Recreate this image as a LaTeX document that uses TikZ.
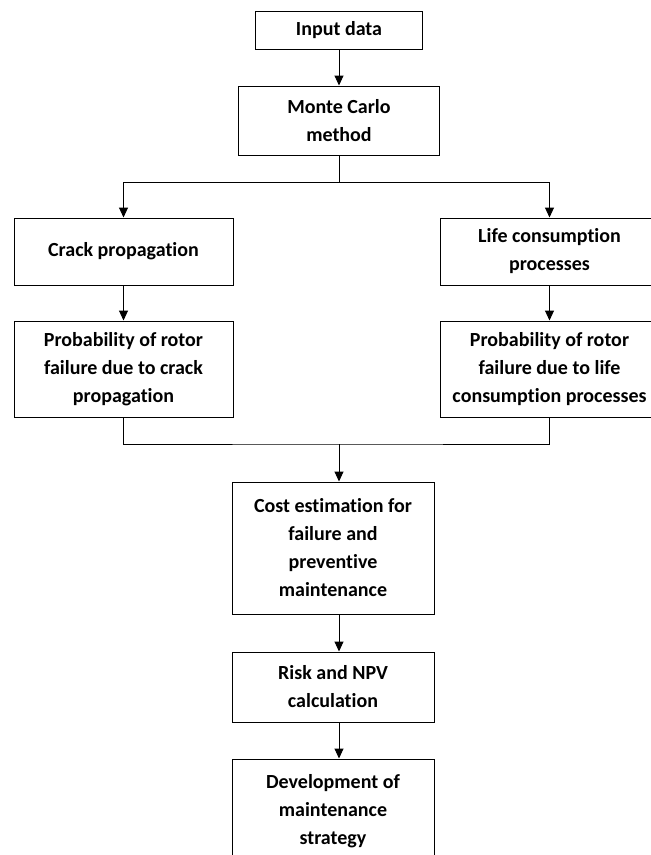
\documentclass[tikz,border=0pt]{standalone}
\usepackage{fontspec}
\setmainfont[Ligatures=NoCommon]{Carlito}
\usepackage{xcolor}
\usepackage{tikz}
\usetikzlibrary{calc}
\usetikzlibrary{arrows.meta,positioning}

\begin{document}
\begin{tikzpicture}[x=1pt,y=-1pt,
	box/.style={draw,line width=1pt,inner sep=0pt,align=center,font=\fontsize{20}{28}\selectfont\bfseries},
	arr/.style={-{Triangle[length=10pt,width=9pt]},line width=1pt}]
	\useasboundingbox[fill=white] (0,0) rectangle (651,855);
	\node[box,minimum width=167pt,minimum height=38pt] (input) at (339,30) {Input data};
	\node[box,minimum width=201pt,minimum height=69pt] (mc) at (339,120.5) {Monte Carlo\\method};
	\node[box,minimum width=219pt,minimum height=67pt] (crack) at (123.5,251.5) {Crack propagation};
	\node[box,minimum width=219pt,minimum height=67pt] (life) at (549.5,251.5) {Life consumption\\processes};
	\node[box,minimum width=219pt,minimum height=96pt] (pcrack) at (123.5,369) {Probability of rotor\\failure due to crack\\propagation};
	\node[box,minimum width=219pt,minimum height=96pt] (plife) at (549.5,369) {Probability of rotor\\failure due to life\\consumption processes};
	\node[box,minimum width=202pt,minimum height=132pt] (cost) at (333,548) {Cost estimation for\\failure and\\preventive\\maintenance};
	\node[box,minimum width=202pt,minimum height=70pt] (risk) at (333,687) {Risk and NPV\\calculation};
	\node[box,minimum width=202pt,minimum height=104pt] (dev) at (333,811) {Development of\\maintenance\\strategy};
	\coordinate (split) at (mc.south |- 0,182);
	\coordinate (merge) at (mc.south |- 0,444);
	\draw[arr] (input) -- (mc);
	\draw[line width=1pt] (mc.south) -- (split);
	\draw[arr] (split) -| (crack.north);
	\draw[arr] (split) -| (life.north);
	\draw[arr] (crack) -- (pcrack);
	\draw[arr] (life) -- (plife);
	\draw[line width=1pt] (pcrack.south) |- (merge) -| (plife.south);
	\draw[arr] (merge) -- (merge |- cost.north);
	\draw[arr] (cost.south -| merge) -- (risk.north -| merge);
	\draw[arr] (risk.south -| merge) -- (dev.north -| merge);
\end{tikzpicture}
\end{document}
